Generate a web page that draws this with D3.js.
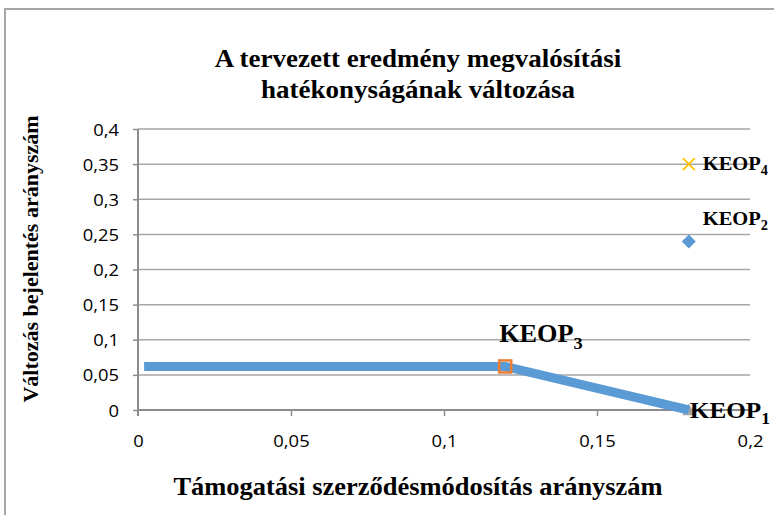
<!DOCTYPE html>
<html><head><meta charset="utf-8">
<script src="https://cdn.jsdelivr.net/npm/d3@7"></script>
<style>html,body{margin:0;padding:0;background:#fff;overflow:hidden}</style>
</head><body>
<svg id="c" width="774" height="515"></svg>
<script>
// ---- data ----
const titleLines = ["A tervezett eredmény megvalósítási", "hatékonyságának változása"];
const xTitle = "Támogatási szerződésmódosítás arányszám";
const yTitle = "Változás bejelentés arányszám";
const xTicks = [0, 0.05, 0.1, 0.15, 0.2];
const yTicks = [0, 0.05, 0.1, 0.15, 0.2, 0.25, 0.3, 0.35, 0.4];
const lineX = [0.002, 0.12, 0.18];
const lineY = [0.062, 0.062, 0];
const pointNames = ["KEOP", "KEOP", "KEOP", "KEOP"];
const pointSubs = ["1", "2", "3", "4"];
const pointX = [0.18, 0.18, 0.12, 0.18];
const pointY = [0, 0.24, 0.062, 0.35];

// ---- styles ----
const SX = 1.08; // horizontal stretch of the reference text
const serif = "'Liberation Serif','Times New Roman',serif";
const sans = "'Open Sans','Noto Sans',sans-serif";
const markerStyle = [
  {shape: "triangle", color: "#A5A5A5", size: 13, under: true},
  {shape: "diamond", color: "#5B9BD5", size: 14},
  {shape: "square", color: "#ED7D31", size: 12},
  {shape: "x", color: "#FFC000", size: 12}
];
const labelStyle = [
  {fs: 24, dx: 1, dy: 8},
  {fs: 19.5, dx: 14, dy: -16},
  {fs: 25, dx: -6, dy: -24},
  {fs: 19.5, dx: 14, dy: 6}
];

const svg = d3.select("#c");
const x = d3.scaleLinear().domain([0, 0.2]).range([138, 750]);
const y = d3.scaleLinear().domain([0, 0.4]).range([410, 129]);
const fmt = v => String(+v.toFixed(3)).replace(".", ",");

// border
svg.append("rect").attr("x", 5).attr("y", 9).attr("width", 900).attr("height", 700)
  .attr("fill", "#fff").attr("stroke", "#a6a6a6").attr("stroke-width", 2);

function stretchedText(g, tx, ty, txt, opts) {
  return g.append("text")
    .attr("transform", `translate(${tx},${ty}) scale(${SX},1)`)
    .attr("text-anchor", opts.anchor || "middle")
    .attr("font-family", opts.family)
    .attr("font-size", opts.size)
    .attr("font-weight", opts.weight || "normal")
    .attr("fill", "#000")
    .text(txt);
}

// title
titleLines.forEach((l, i) => stretchedText(svg, 418, 67 + i * 31, l, {family: serif, size: 25, weight: "bold"}));

// gridlines
svg.append("g").selectAll("line").data(yTicks.filter(v => v > 0)).join("line")
  .attr("x1", x(0)).attr("x2", x(0.2))
  .attr("y1", d => y(d)).attr("y2", d => y(d))
  .attr("stroke", "#a6a6a6").attr("stroke-width", 1.5);

// y axis
const yAxis = svg.append("g").attr("transform", `translate(${x(0)},0)`)
  .call(d3.axisLeft(y).tickValues(yTicks).tickSize(5).tickPadding(14).tickFormat(fmt));
// x axis
const xAxis = svg.append("g").attr("transform", `translate(0,${y(0)})`)
  .call(d3.axisBottom(x).tickValues(xTicks).tickSize(6).tickPadding(0).tickFormat(fmt));
[yAxis, xAxis].forEach(a => {
  a.select(".domain").attr("stroke", "#8c8c8c").attr("stroke-width", 2);
  a.selectAll(".tick line").attr("stroke", "#8c8c8c").attr("stroke-width", 1.5);
  a.selectAll(".tick text").attr("font-family", sans).attr("font-size", 16).attr("fill", "#000");
});
yAxis.select(".domain").attr("d", `M0,${y(0.4)}V${y(0) + 6}`);
xAxis.select(".domain").attr("d", `M${x(0)},0H${x(0.2)}`);
yAxis.selectAll(".tick text").attr("x", null).attr("dy", null)
  .attr("transform", `translate(-19,6) scale(1.15,1)`);
xAxis.selectAll(".tick text").attr("y", null).attr("dy", null)
  .attr("transform", `translate(0,37) scale(1.15,1)`);
xAxis.selectAll(".tick").filter(d => d === 0).select("line").remove();

// axis titles
stretchedText(svg, 418, 495, xTitle, {family: serif, size: 24.5, weight: "bold"});
svg.append("text").attr("transform", `translate(38,${259}) rotate(-90)`)
  .attr("text-anchor", "middle").attr("font-family", serif).attr("font-size", 22)
  .attr("font-weight", "bold").text(yTitle);

// markers
function drawMarker(g, i) {
  const m = markerStyle[i], cx = x(pointX[i]), cy = y(pointY[i]), s = m.size / 2;
  if (m.shape === "triangle") {
    g.append("path").attr("d", `M${cx},${cy - s}L${cx + s},${cy + s * 0.8}L${cx - s},${cy + s * 0.8}Z`).attr("fill", m.color);
  } else if (m.shape === "diamond") {
    g.append("path").attr("d", `M${cx},${cy - s}L${cx + s},${cy}L${cx},${cy + s}L${cx - s},${cy}Z`).attr("fill", m.color);
  } else if (m.shape === "square") {
    g.append("rect").attr("x", cx - s).attr("y", cy - s).attr("width", 2 * s).attr("height", 2 * s)
      .attr("fill", "none").attr("stroke", m.color).attr("stroke-width", 2.5);
  } else {
    g.append("path").attr("d", `M${cx - s},${cy - s}L${cx + s},${cy + s}M${cx - s},${cy + s}L${cx + s},${cy - s}`)
      .attr("stroke", m.color).attr("stroke-width", 1.8).attr("fill", "none");
  }
}
const mg = svg.append("g");
pointX.forEach((_, i) => { if (markerStyle[i].under) drawMarker(mg, i); });

// line
svg.append("path").datum(lineX.map((v, i) => [v, lineY[i]]))
  .attr("d", d3.line().x(d => x(d[0])).y(d => y(d[1])))
  .attr("fill", "none").attr("stroke", "#5B9BD5").attr("stroke-width", 9).attr("stroke-linejoin", "round");

const mg2 = svg.append("g");
pointX.forEach((_, i) => { if (!markerStyle[i].under) drawMarker(mg2, i); });

// labels
pointX.forEach((_, i) => {
  const L = labelStyle[i];
  const t = svg.append("text")
    .attr("transform", `translate(${x(pointX[i]) + L.dx},${y(pointY[i]) + L.dy}) scale(1.05,1)`)
    .attr("font-family", serif).attr("font-weight", "bold").attr("font-size", L.fs).attr("fill", "#000");
  t.append("tspan").text(pointNames[i]);
  t.append("tspan").attr("font-size", L.fs * 0.7).attr("dy", L.fs * 0.25).text(pointSubs[i]);
});
</script>
</body></html>
